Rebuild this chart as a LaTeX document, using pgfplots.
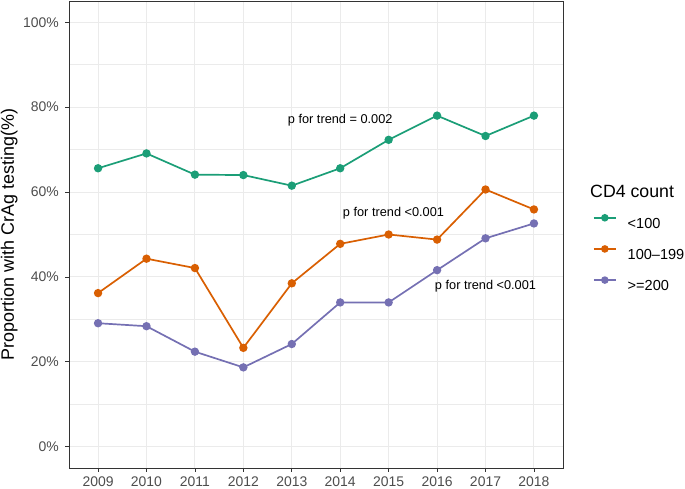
\documentclass[border=0pt]{standalone}
\usepackage{fontspec}
\setmainfont{Liberation Sans}
\usepackage{pgfplots}
\pgfplotsset{compat=1.18}
\definecolor{cgreen}{HTML}{1B9E77}
\definecolor{corange}{HTML}{D95F02}
\definecolor{cpurple}{HTML}{7570B3}
\definecolor{gridc}{HTML}{EBEBEB}
\definecolor{tickc}{HTML}{4D4D4D}
\definecolor{axc}{HTML}{333333}
\begin{document}
\begin{tikzpicture}
\useasboundingbox (0bp,0bp) rectangle (685bp,489bp);
\begin{axis}[
  at={(69bp,21bp)}, anchor=south west,
  scale only axis, width=494bp, height=467bp,
  xmin=2008.4, xmax=2018.6, ymin=-5, ymax=105,
  xtick={2009,2010,2011,2012,2013,2014,2015,2016,2017,2018},
  xticklabels={2009,2010,2011,2012,2013,2014,2015,2016,2017,2018},
  ytick={0,20,40,60,80,100},
  yticklabels={0\%,20\%,40\%,60\%,80\%,100\%},
  minor ytick={10,30,50,70,90},
  xmajorgrids, ymajorgrids, yminorgrids,
  major grid style={draw=gridc, line width=1bp},
  minor grid style={draw=gridc, line width=0.5bp},
  axis line style={draw=axc, line width=0.8bp},
  tick align=outside, major tick length=4bp, minor tick length=0pt,
  tick style={draw=axc, line width=0.8bp},
  xtick pos=bottom, ytick pos=left,
  tick label style={font=\fontsize{14}{16}\selectfont, text=tickc, inner sep=0pt},
  xticklabel style={anchor=north, yshift=-5bp},
  yticklabel style={anchor=east, xshift=-6bp},
  ylabel={Proportion with CrAg testing(\%)},
  ylabel style={at={(axis description cs:-0.121,0.5)}, anchor=center, font=\fontsize{18}{20}\selectfont, inner sep=0pt},
  legend style={at={(axis description cs:1.0607,0.542)}, anchor=north west,
    draw=none, fill=none, inner sep=0pt, outer sep=0pt, row sep=17.8bp,
    font=\fontsize{14.6}{16}\selectfont,
    nodes={inner sep=0pt, text height=10.5bp, text depth=0pt},
    /tikz/every odd column/.append style={column sep=11bp}},
  legend cell align=left,
  legend image code/.code={\draw[#1, line width=1.7bp] (0bp,5.2bp) -- (22bp,5.2bp); \draw[#1] plot coordinates {(11bp,5.2bp)};},
  clip=false,
]
\addplot[forget plot, color=cgreen, line width=1.7bp, mark=*, mark size=3.3bp, mark options={fill=cgreen}] coordinates {
(2009,65.6) (2010,69.1) (2011,64.1) (2012,64.0) (2013,61.5) (2014,65.6) (2015,72.3) (2016,78.0) (2017,73.2) (2018,78.0)};
\addplot[forget plot, color=corange, line width=1.7bp, mark=*, mark size=3.3bp, mark options={fill=corange}] coordinates {
(2009,36.2) (2010,44.3) (2011,42.1) (2012,23.3) (2013,38.5) (2014,47.8) (2015,50.0) (2016,48.8) (2017,60.6) (2018,55.9)};
\addplot[forget plot, color=cpurple, line width=1.7bp, mark=*, mark size=3.3bp, mark options={fill=cpurple}] coordinates {
(2009,29.1) (2010,28.4) (2011,22.4) (2012,18.7) (2013,24.2) (2014,34.0) (2015,34.0) (2016,41.6) (2017,49.1) (2018,52.6)};
\addlegendimage{draw=cgreen, fill=cgreen, line width=1.7bp, mark=*, mark size=2.9bp}
\addlegendentry{<100}
\addlegendimage{draw=corange, fill=corange, line width=1.7bp, mark=*, mark size=2.9bp}
\addlegendentry{100\textendash 199}
\addlegendimage{draw=cpurple, fill=cpurple, line width=1.7bp, mark=*, mark size=2.9bp}
\addlegendentry{>=200}
\node[font=\fontsize{12.8}{14}\selectfont, inner sep=0pt] at (axis cs:2014.0,77.0) {p for trend = 0.002};
\node[font=\fontsize{12.8}{14}\selectfont, inner sep=0pt] at (axis cs:2015.1,54.9) {p for trend <0.001};
\node[font=\fontsize{12.8}{14}\selectfont, inner sep=0pt] at (axis cs:2017.0,37.8) {p for trend <0.001};
\node[font=\fontsize{17.8}{20}\selectfont, inner sep=0pt, anchor=west] at (axis description cs:1.0547,0.593) {CD4 count};
\end{axis}
\end{tikzpicture}
\end{document}
